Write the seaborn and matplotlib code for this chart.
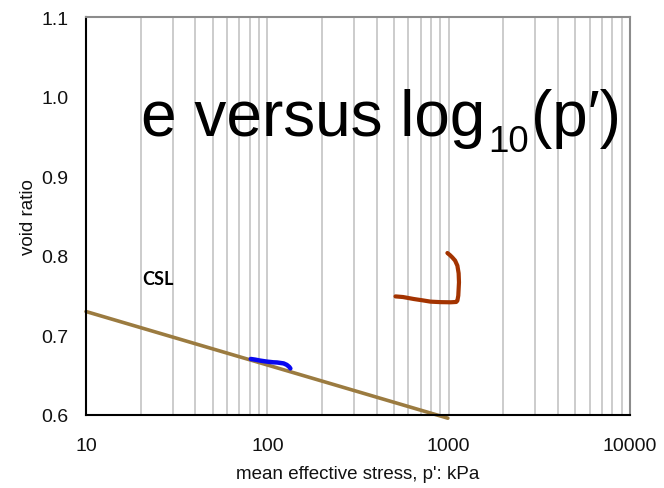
import matplotlib
matplotlib.use("Agg")
import matplotlib.pyplot as plt
import seaborn as sns
import numpy as np

# ---- data ----
csl_p = [10, 990]
csl_e = [0.730, 0.596]

blue_p = [81, 86, 91, 96, 100, 104, 108, 113, 118, 123, 128, 132, 134]
blue_e = [0.6704, 0.6695, 0.6684, 0.6676, 0.6670, 0.6666, 0.6662, 0.6660, 0.6654, 0.6648, 0.6630, 0.6605, 0.6585]

brown_p = [509, 560, 643, 720, 795, 900, 1026, 1100, 1117, 1130, 1140, 1135, 1117, 1085, 1047, 1015, 984]
brown_e = [0.749, 0.7482, 0.7457, 0.7440, 0.7424, 0.7418, 0.7416, 0.7420, 0.7436, 0.7500, 0.7667, 0.7780, 0.7876, 0.7940, 0.7980, 0.8010, 0.8035]

xticks = [10, 100, 1000, 10000]
xticklabels = ["10", "100", "1000", "10000"]
yticks = [0.6, 0.7, 0.8, 0.9, 1.0, 1.1]
yticklabels = ["0.6", "0.7", "0.8", "0.9", "1.0", "1.1"]

sns.set_style("white")
plt.rcParams["font.family"] = ["Liberation Sans", "DejaVu Sans"]

fig = plt.figure(figsize=(6.64, 4.89), dpi=100)
ax = fig.add_axes([86 / 664, 73 / 489, (630 - 86) / 664, (416 - 18) / 489])

ax.set_xscale("log")
ax.set_xlim(10, 10000)
ax.set_ylim(0.6, 1.1)

ax.grid(which="both", axis="x", color="#c8c8c8", lw=1.3, zorder=0)
ax.grid(False, axis="y")
ax.set_axisbelow(True)

sns.lineplot(x=csl_p, y=csl_e, ax=ax, color="#9b7b40", lw=2.6, sort=False, estimator=None)
sns.lineplot(x=blue_p, y=blue_e, ax=ax, color="#0808f0", lw=3.2, sort=False, estimator=None)
sns.lineplot(x=brown_p, y=brown_e, ax=ax, color="#a33300", lw=3.0, sort=False, estimator=None)
ax.lines[0].set_clip_on(False)

ax.set_xticks(xticks)
ax.set_xticklabels(xticklabels)
ax.set_yticks(yticks)
ax.set_yticklabels(yticklabels)
ax.xaxis.set_minor_locator(matplotlib.ticker.LogLocator(base=10, subs=np.arange(2, 10)))
ax.xaxis.set_minor_formatter(matplotlib.ticker.NullFormatter())
ax.tick_params(axis="x", which="minor", length=0)
ax.tick_params(axis="both", which="major", direction="out", length=5, width=1.2,
               color="black", labelsize=14, labelcolor="#111111")
ax.tick_params(axis="x", which="major", pad=10.5)
ax.tick_params(axis="y", which="major", pad=7.5)

for s in ["left", "bottom"]:
    ax.spines[s].set_color("black")
    ax.spines[s].set_linewidth(1.5)
for s in ["top", "right"]:
    ax.spines[s].set_visible(True)
    ax.spines[s].set_color("#8c8c8c")
    ax.spines[s].set_linewidth(1.5)

ax.set_xlabel("mean effective stress, p': kPa", fontsize=13.5, labelpad=8, color="#111111")
ax.set_ylabel("void ratio", fontsize=13.5, labelpad=3, color="#111111")

ax.text(20.5, 0.772, "CSL", fontsize=13, fontweight="bold", family=["Lato", "DejaVu Sans"],
        ha="left", va="center", color="black")

t1 = ax.text(20.2, 0.952, "e versus log", fontsize=46, ha="left", va="baseline", color="black")
t2 = ax.annotate("10", xy=(1, 0.9317), xycoords=(t1, "data"), xytext=(2, 0), textcoords="offset points",
                 fontsize=26.5, ha="left", va="baseline", color="black")
t3 = ax.annotate("(p\u2032)", xy=(1, 0.952), xycoords=(t2, "data"), xytext=(1.5, 0), textcoords="offset points",
                 fontsize=46, ha="left", va="baseline", color="black")

fig.savefig("out.png", dpi=100)
